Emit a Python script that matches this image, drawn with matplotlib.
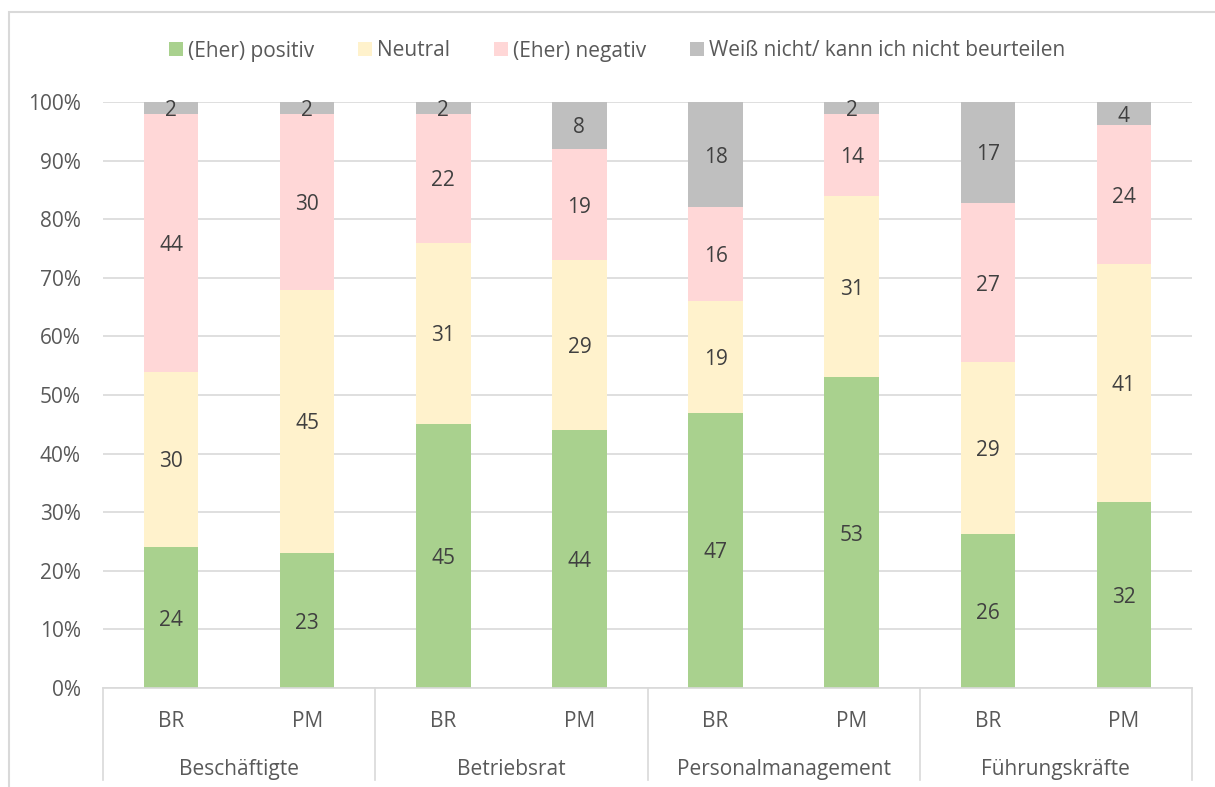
import matplotlib
matplotlib.use("Agg")
import matplotlib.pyplot as plt
import numpy as np
from matplotlib.patches import Patch, Rectangle
from matplotlib.lines import Line2D
from matplotlib.transforms import blended_transform_factory, ScaledTranslation

plt.rcParams['font.family'] = ['Open Sans', 'DejaVu Sans']

# Survey answers per group and respondent type (counts in %)
groups = ["Beschäftigte", "Betriebsrat", "Personalmanagement", "Führungskräfte"]
respondents = ["BR", "PM"]
series = ["(Eher) positiv", "Neutral", "(Eher) negativ",
          "Weiß nicht/ kann ich nicht beurteilen"]
positiv = [24, 23, 45, 44, 47, 53, 26, 32]
neutral = [30, 45, 31, 29, 19, 31, 29, 41]
negativ = [44, 30, 22, 19, 16, 14, 27, 24]
weiss_nicht = [2, 2, 2, 8, 18, 2, 17, 4]
y_ticks = [0, 10, 20, 30, 40, 50, 60, 70, 80, 90, 100]

colors = ["#A9D18E", "#FFF2CC", "#FFD7D7", "#BFBFBF"]
axis_text = "#595959"
label_text = "#404040"
grid_col = "#D9D9D9"
fs = 15

W, H = 1215, 787
fig = plt.figure(figsize=(W / 100, H / 100), dpi=100)

# plot area in pixels
left_px, right_px, top_px, bottom_px = 103, 1192, 102, 688
ax = fig.add_axes([left_px / W, 1 - bottom_px / H,
                   (right_px - left_px) / W, (bottom_px - top_px) / H])
ax_h_px = bottom_px - top_px

# small downward nudge for text so it sits optically centred
nudge = ScaledTranslation(0, -2.5 / 100, fig.dpi_scale_trans)

values = np.array([positiv, neutral, negativ, weiss_nicht], dtype=float)
totals = values.sum(axis=0)
shares = values / totals * 100
x = np.arange(values.shape[1])

bottom = np.zeros(len(x))
for i, name in enumerate(series):
    ax.bar(x, shares[i], bottom=bottom, width=0.4, color=colors[i],
           edgecolor="none", label=name, zorder=2)
    for xi, b, s, v in zip(x, bottom, shares[i], values[i]):
        ax.text(xi, b + s / 2, f"{int(v)}", ha="center", va="center",
                fontsize=fs, color=label_text, zorder=3,
                transform=ax.transData + nudge)
    bottom = bottom + shares[i]

ax.set_xlim(-0.5, len(x) - 0.5)
ax.set_ylim(0, 100)
ax.set_yticks(y_ticks)
ax.set_yticklabels([f"{t}%" for t in y_ticks], fontsize=fs, color=axis_text)
ax.tick_params(axis="y", length=0, pad=16)
ax.set_xticks([])
ax.yaxis.grid(True, color=grid_col, linewidth=1.2, zorder=0)
ax.set_axisbelow(True)
for side in ["left", "right", "top"]:
    ax.spines[side].set_visible(False)
ax.spines["bottom"].set_color(grid_col)
ax.spines["bottom"].set_linewidth(1.2)

# two-level category axis
trans = blended_transform_factory(ax.transData, ax.transAxes)
for xi in x:
    ax.text(xi, -31 / ax_h_px, respondents[xi % 2], ha="center", va="center",
            fontsize=fs, color=axis_text, transform=trans + nudge)
for gi, g in enumerate(groups):
    ax.text(2 * gi + 0.5, -79 / ax_h_px, g, ha="center", va="center",
            fontsize=fs, color=axis_text, transform=trans + nudge)
for xb in np.arange(-0.5, len(x), 2):
    ax.add_line(Line2D([xb, xb], [0, -92 / ax_h_px], transform=trans,
                       color=grid_col, linewidth=1.2, clip_on=False))

# legend
handles = [Patch(facecolor=c, edgecolor="none") for c in colors]
leg = fig.legend(handles, series, loc="center", ncol=4, frameon=False,
                 bbox_to_anchor=(617 / W, 1 - 51 / H), fontsize=fs,
                 handlelength=0.67, handleheight=0.67, handletextpad=0.25,
                 columnspacing=2.1, borderaxespad=0, borderpad=0)
for t in leg.get_texts():
    t.set_color(axis_text)

# chart frame
fig.patches.append(Rectangle((9 / W, -0.1), 1.2, 1.1 - 12 / H,
                             transform=fig.transFigure, fill=False,
                             edgecolor=grid_col, linewidth=1.5,
                             clip_on=False))

fig.savefig("out.png", dpi=100)
